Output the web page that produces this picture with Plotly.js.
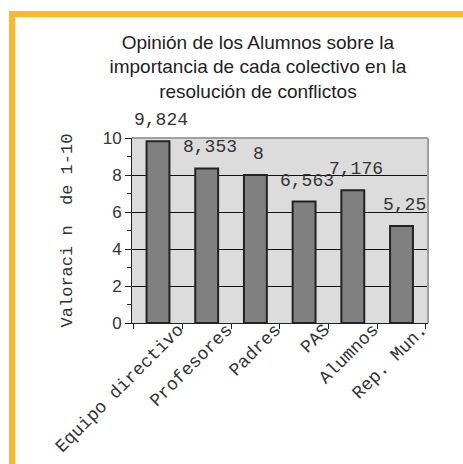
<!DOCTYPE html>
<html>
<head>
<meta charset="utf-8">
<script src="https://cdn.plot.ly/plotly-3.0.1.min.js"></script>
<style>
  html, body { margin:0; padding:0; background:#ffffff; }
  #frame { position:absolute; left:9px; top:11px; width:454px; height:453px;
           border-left:6px solid #FDB92B; border-top:6px solid #FDB92B; box-sizing:border-box; }
  #chart { position:absolute; left:0; top:0; width:463px; height:464px; }
</style>
</head>
<body>
<div id="frame"></div>
<div id="chart"></div>
<script>
const categories = ["Equipo directivo", "Profesores", "Padres", "PAS", "Alumnos", "Rep. Mun."];
const values = [9.824, 8.353, 8, 6.563, 7.176, 5.25];
const yTickVals = [0, 2, 4, 6, 8, 10];
const titleText = "Opinión de los Alumnos sobre la<br>importancia de cada colectivo en la<br>resolución de conflictos";
const yTitleText = "Valoraci n  de 1-10";

const labels = values.map(v => String(v).replace('.', ','));

const trace = {
  type: 'bar',
  x: categories,
  y: values,
  width: 0.47,
  marker: { color: '#808080', line: { color: '#222222', width: 2 } },
  hoverinfo: 'skip'
};

const annotations = categories.map((c, i) => ({
  x: c, y: values[i], xref: 'x', yref: 'y',
  text: labels[i], showarrow: false,
  xanchor: 'center', yanchor: 'middle', yshift: 21, xshift: 3,
  font: { family: 'Liberation Mono, Courier New, monospace', size: 18, color: '#333333' }
}));

const layout = {
  width: 463, height: 464,
  margin: { l: 132, r: 35, t: 138, b: 141 },
  paper_bgcolor: 'rgba(0,0,0,0)',
  plot_bgcolor: '#dcdcdc',
  showlegend: false,
  title: {
    text: titleText,
    x: 0.557, xref: 'container', xanchor: 'center',
    y: 0.895, yref: 'container', yanchor: 'top',
    font: { family: 'Liberation Sans, Arial, sans-serif', size: 19, color: '#222222' }
  },
  xaxis: {
    type: 'category',
    showline: true, linecolor: '#222222', linewidth: 1,
    ticks: 'outside', tickson: 'boundaries', ticklen: 5, tickcolor: '#222222',
    tickangle: -45,
    ticklabelshift: 20,
    ticklabelstandoff: -12,
    tickfont: { family: 'Liberation Mono, Courier New, monospace', size: 18, color: '#333333' },
    showgrid: false
  },
  yaxis: {
    range: [0, 10],
    tickvals: yTickVals,
    showline: true, linecolor: '#222222', linewidth: 1,
    ticks: 'outside', ticklen: 6, tickcolor: '#222222',
    minor: { dtick: 1, ticks: 'outside', ticklen: 4, tickcolor: '#222222', showgrid: false },
    tickfont: { family: 'Liberation Sans, Arial, sans-serif', size: 17, color: '#333333' },
    showgrid: true, gridcolor: '#111111', gridwidth: 1,
    zeroline: false,
    title: {
      text: yTitleText, standoff: 25,
      font: { family: 'Liberation Mono, Courier New, monospace', size: 17, color: '#333333' }
    }
  },
  shapes: [
    { type: 'line', xref: 'paper', yref: 'paper', x0: 0, x1: 1, y0: 1, y1: 1,
      line: { color: '#a0a0a0', width: 2 }, layer: 'above' },
    { type: 'line', xref: 'paper', yref: 'paper', x0: 1, x1: 1, y0: 0, y1: 1,
      line: { color: '#a0a0a0', width: 2 }, layer: 'above' }
  ],
  annotations: annotations
};

Plotly.newPlot('chart', [trace], layout, { displayModeBar: false, staticPlot: true });
</script>
</body>
</html>
